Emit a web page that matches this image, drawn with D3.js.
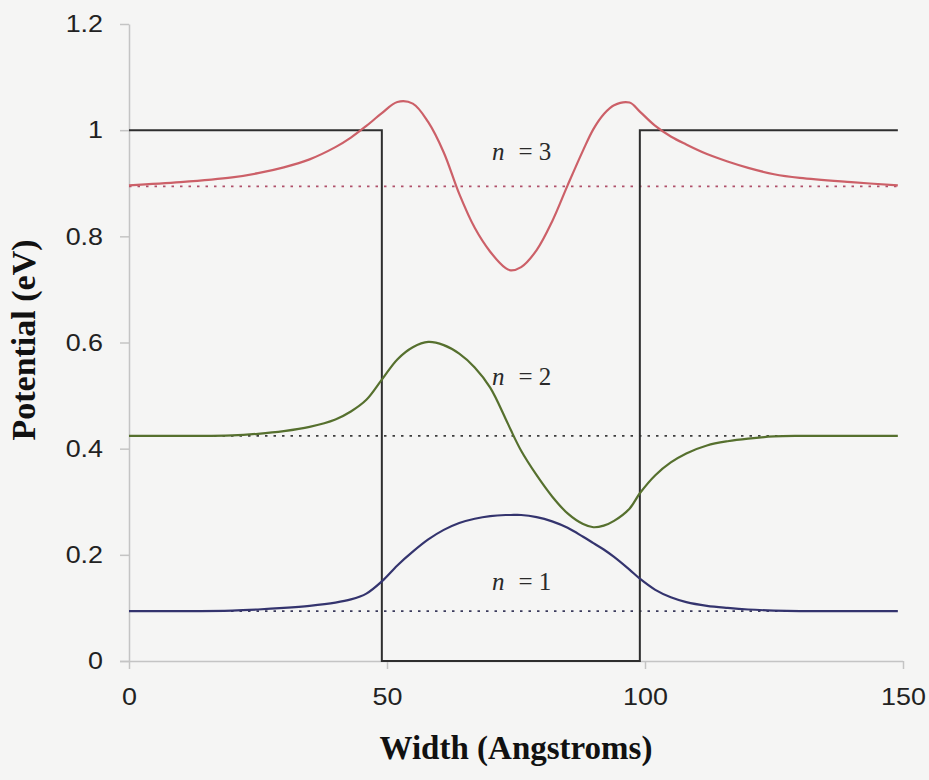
<!DOCTYPE html>
<html>
<head>
<meta charset="utf-8">
<script src="https://cdn.jsdelivr.net/npm/d3@7"></script>
<style>
  html, body { margin: 0; padding: 0; background: #f5f5f4; }
  svg { display: block; }
</style>
</head>
<body>
<svg id="chart" width="929" height="780"></svg>
<script>
// Position along the structure (Angstroms) at which the wavefunctions are sampled
const widths = [0, 10, 20, 25, 30, 35, 40, 43, 46, 49, 52, 55, 58, 61, 64, 67, 70, 73, 74, 76, 79, 82, 85, 88, 90, 92, 94, 97, 99, 102, 105, 108, 112, 116, 120, 125, 130, 140, 149];

// Wavefunctions drawn offset by their eigen-energies (eV)
const psi1 = [0.094, 0.094, 0.095, 0.097, 0.100, 0.104, 0.110, 0.116, 0.127, 0.150, 0.180, 0.206, 0.229, 0.247, 0.260, 0.268, 0.273, 0.275, 0.275, 0.275, 0.271, 0.263, 0.251, 0.234, 0.222, 0.210, 0.196, 0.172, 0.155, 0.134, 0.120, 0.111, 0.104, 0.100, 0.097, 0.095, 0.094, 0.094, 0.094];
const psi2 = [0.424, 0.424, 0.425, 0.428, 0.433, 0.441, 0.455, 0.470, 0.492, 0.530, 0.568, 0.591, 0.601, 0.595, 0.579, 0.553, 0.515, 0.456, 0.435, 0.396, 0.350, 0.310, 0.278, 0.258, 0.252, 0.255, 0.264, 0.287, 0.316, 0.350, 0.374, 0.391, 0.406, 0.414, 0.419, 0.423, 0.424, 0.424, 0.424];
const psi3 = [0.896, 0.902, 0.911, 0.919, 0.930, 0.945, 0.968, 0.986, 1.008, 1.032, 1.053, 1.050, 1.015, 0.958, 0.880, 0.816, 0.771, 0.740, 0.736, 0.742, 0.774, 0.828, 0.896, 0.962, 1.002, 1.030, 1.047, 1.052, 1.035, 1.008, 0.988, 0.973, 0.955, 0.941, 0.929, 0.917, 0.910, 0.902, 0.896];

// Eigen-energies (eV)
const energies = [0.094, 0.424, 0.894];
const stateNames = ["1", "2", "3"];

// Square well profile
const wellX = [0, 49, 49, 99, 99, 149];
const wellV = [1, 1, 0, 0, 1, 1];

// Axis ticks
const xTicks = [0, 50, 100, 150];
const yTicks = [0, 0.2, 0.4, 0.6, 0.8, 1, 1.2];

const svg = d3.select("#chart");

const x = d3.scaleLinear().domain([0, 150]).range([129, 903]);
const y = d3.scaleLinear().domain([0, 1.2]).range([661, 24]);

// Stretch a text element's glyphs horizontally by the given factor
function widen(sel, k) {
  sel.each(function () {
    const w = this.getComputedTextLength();
    d3.select(this).attr("textLength", w * k).attr("lengthAdjust", "spacingAndGlyphs");
  });
}

// Axes
const yAxis = d3.axisLeft(y).tickValues(yTicks).tickSize(9).tickSizeOuter(0).tickPadding(17)
  .tickFormat(d => d3.format("~g")(d));
const xAxis = d3.axisBottom(x).tickValues(xTicks).tickSize(8).tickSizeOuter(0).tickPadding(19);

const gy = svg.append("g").attr("transform", "translate(129,0)").call(yAxis);
const gx = svg.append("g").attr("transform", "translate(0,661)").call(xAxis);

[gx, gy].forEach(g => {
  g.select(".domain").attr("stroke", "#c4c4c4").attr("stroke-width", 1.5);
  g.selectAll(".tick line").attr("stroke", "#c4c4c4").attr("stroke-width", 1.5);
  g.selectAll(".tick text")
    .attr("fill", "#222")
    .style("font-family", "'Liberation Sans', Arial, sans-serif")
    .style("font-size", "24px")
    .call(widen, 1.12);
});
gx.select(".domain").attr("d", "M120,0.5H903");

// Energy levels (dotted)
const levelColors = ["#3b3b5c", "#3d3d3d", "#b0506a"];
const line = d3.line().x(d => x(d[0])).y(d => y(d[1]));
energies.forEach((e, i) => {
  svg.append("path")
    .attr("d", line([[0, e], [149, e]]))
    .attr("fill", "none")
    .attr("stroke", levelColors[i])
    .attr("stroke-width", 1.8)
    .attr("stroke-dasharray", "2.5,6");
});

// Potential well
svg.append("path")
  .attr("d", line(wellX.map((w, i) => [w, wellV[i]])))
  .attr("fill", "none")
  .attr("stroke", "#2e2e2e")
  .attr("stroke-width", 2)
  .attr("stroke-linejoin", "miter");

// Wavefunctions
const curve = d3.line().x(d => x(d[0])).y(d => y(d[1])).curve(d3.curveCatmullRom.alpha(0.5));
const states = [
  { vals: psi1, color: "#34346e" },
  { vals: psi2, color: "#56702e" },
  { vals: psi3, color: "#cc6068" }
];
states.forEach(s => {
  svg.append("path")
    .attr("d", curve(widths.map((w, i) => [w, s.vals[i]])))
    .attr("fill", "none")
    .attr("stroke", s.color)
    .attr("stroke-width", 2.2);
});

// State labels
const labelBaselines = [590, 385, 160];
stateNames.forEach((n, i) => {
  const t = svg.append("text")
    .attr("x", 492)
    .attr("y", labelBaselines[i])
    .attr("fill", "#2a2a2a")
    .style("font-family", "'Liberation Serif', 'Times New Roman', serif")
    .style("font-size", "25px");
  t.append("tspan").style("font-style", "italic").text("n");
  t.append("tspan").attr("dx", 14).text("= " + n);
});

// Axis titles
svg.append("text")
  .attr("x", 516)
  .attr("y", 759)
  .attr("text-anchor", "middle")
  .attr("fill", "#111")
  .style("font-family", "'Liberation Serif', 'Times New Roman', serif")
  .style("font-weight", "bold")
  .style("font-size", "33px")
  .text("Width (Angstroms)");

svg.append("text")
  .attr("transform", "translate(35,340) rotate(-90)")
  .attr("text-anchor", "middle")
  .attr("fill", "#111")
  .style("font-family", "'Liberation Serif', 'Times New Roman', serif")
  .style("font-weight", "bold")
  .style("font-size", "34px")
  .text("Potential (eV)");
</script>
</body>
</html>
